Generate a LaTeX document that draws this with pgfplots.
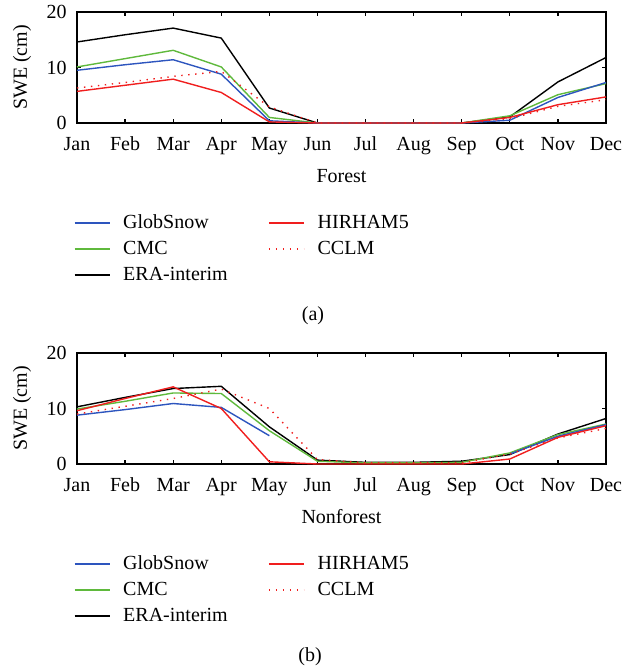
\documentclass[border=0pt]{standalone}
\usepackage{pgfplots}
\pgfplotsset{compat=1.18}
\usepackage{fontspec}
\setmainfont{Liberation Serif}
\definecolor{gsblue}{RGB}{45,85,190}
\definecolor{cmcgreen}{RGB}{95,185,60}
\definecolor{hred}{RGB}{240,30,30}
\pgfplotsset{
  sweaxis/.style={
    scale only axis, width=264.5pt, height=55.5pt,
    xmin=0, xmax=11, ymin=0, ymax=20,
    xtick={0,...,11},
    xticklabels={Jan,Feb,Mar,Apr,May,Jun,Jul,Aug,Sep,Oct,Nov,Dec},
    ytick={0,10,20},
    tick align=inside, tick pos=both, major tick length=2.2pt,
    axis line style={line width=0.75pt},
    every tick/.style={black, line width=0.6pt},
    /pgf/number format/assume math mode=true,
    xticklabel style={anchor=center, yshift=-11pt, text height=7pt, text depth=2pt, inner sep=0pt},
    yticklabel style={anchor=east, xshift=-1.7pt},
    ylabel={SWE (cm)},
    ylabel style={at={(axis description cs:-0.104,0.5)}, anchor=center},
    xlabel style={at={(axis description cs:0.5,-0.477)}, anchor=center},
    unbounded coords=jump,
    legend columns=2,
    legend cell align=left,
    legend image code/.code={\draw[#1] (0pt,0pt) -- (17.5pt,0pt);},
    legend style={at={(axis description cs:-0.006,-0.82)}, anchor=north west,
      draw=none, fill=none, inner sep=0pt, outer sep=0pt, row sep=4pt,
      nodes={inner sep=0pt, text height=7pt, text depth=2pt},
      /tikz/every odd column/.append style={column sep=6.5pt},
      /tikz/every even column/.append style={column sep=20.3pt}},
  },
  sglob/.style={gsblue, line width=0.7pt},
  scmc/.style={cmcgreen, line width=0.7pt},
  sera/.style={black, line width=0.7pt},
  shir/.style={hred, line width=0.7pt},
  scclm/.style={hred, line width=0.7pt, dash pattern=on 0.7pt off 2.8pt},
}
\begin{document}
\begin{tikzpicture}
\useasboundingbox (0,0) rectangle (312.5pt,-335pt);
% ---------- (a) Forest ----------
\begin{axis}[sweaxis, at={(38.5pt,-61.5pt)}, anchor=south west, xlabel={Forest}]
\addlegendimage{sglob}\addlegendentry{GlobSnow}
\addlegendimage{shir}\addlegendentry{HIRHAM5}
\addlegendimage{scmc}\addlegendentry{CMC}
\addlegendimage{scclm}\addlegendentry{CCLM}
\addlegendimage{sera}\addlegendentry{ERA-interim}
\addplot[sera, forget plot] coordinates {(0,14.6) (1,15.9) (2,17.1) (3,15.3) (4,2.7) (5,0) (6,0) (7,0) (8,0) (9,1.1) (10,7.4) (11,11.8)};
\addplot[scmc, forget plot] coordinates {(0,10.1) (1,11.6) (2,13.1) (3,10.1) (4,1.0) (5,0) (6,0) (7,0) (8,0) (9,1.3) (10,5.1) (11,7.1)};
\addplot[sglob, forget plot] coordinates {(0,9.5) (1,10.5) (2,11.4) (3,8.8) (4,0.4) (5,0) (6,0) (7,0) (8,0) (9,0.5) (10,4.6) (11,7.3)};
\addplot[scclm, forget plot] coordinates {(0,6.3) (1,7.3) (2,8.4) (3,9.3) (4,2.9) (5,0) (6,0) (7,0) (8,0) (9,0.8) (10,3.0) (11,4.2)};
\addplot[shir, forget plot] coordinates {(0,5.7) (1,6.8) (2,7.9) (3,5.5) (4,0.2) (5,0) (6,0) (7,0) (8,0) (9,1.0) (10,3.3) (11,4.7)};
\end{axis}
\node[anchor=center] at (156.5pt,-158pt) {(a)};
% ---------- (b) Nonforest ----------
\begin{axis}[sweaxis, at={(38.5pt,-232pt)}, anchor=south west, xlabel={Nonforest}]
\addlegendimage{sglob}\addlegendentry{GlobSnow}
\addlegendimage{shir}\addlegendentry{HIRHAM5}
\addlegendimage{scmc}\addlegendentry{CMC}
\addlegendimage{scclm}\addlegendentry{CCLM}
\addlegendimage{sera}\addlegendentry{ERA-interim}
\addplot[sera, forget plot] coordinates {(0,10.3) (1,12.0) (2,13.6) (3,14.0) (4,6.7) (5,0.7) (6,0.3) (7,0.3) (8,0.5) (9,1.7) (10,5.4) (11,8.2)};
\addplot[scmc, forget plot] coordinates {(0,9.9) (1,11.3) (2,12.8) (3,12.7) (4,6.0) (5,0.5) (6,0.2) (7,0.2) (8,0.3) (9,2.0) (10,5.3) (11,7.2)};
\addplot[sglob, forget plot] coordinates {(0,8.8) (1,9.8) (2,10.9) (3,10.2) (4,5.1) (5,nan) (6,nan) (7,nan) (8,nan) (9,1.8) (10,5.0) (11,7.1)};
\addplot[scclm, forget plot] coordinates {(0,9.0) (1,10.4) (2,11.8) (3,13.5) (4,10.0) (5,0.8) (6,0.2) (7,0.2) (8,0.2) (9,1.8) (10,4.7) (11,6.4)};
\addplot[shir, forget plot] coordinates {(0,9.6) (1,11.8) (2,13.9) (3,10.0) (4,0.4) (5,0) (6,0) (7,0) (8,0) (9,0.9) (10,4.8) (11,6.9)};
\end{axis}
\node[anchor=center] at (155pt,-328.5pt) {(b)};
\end{tikzpicture}
\end{document}
